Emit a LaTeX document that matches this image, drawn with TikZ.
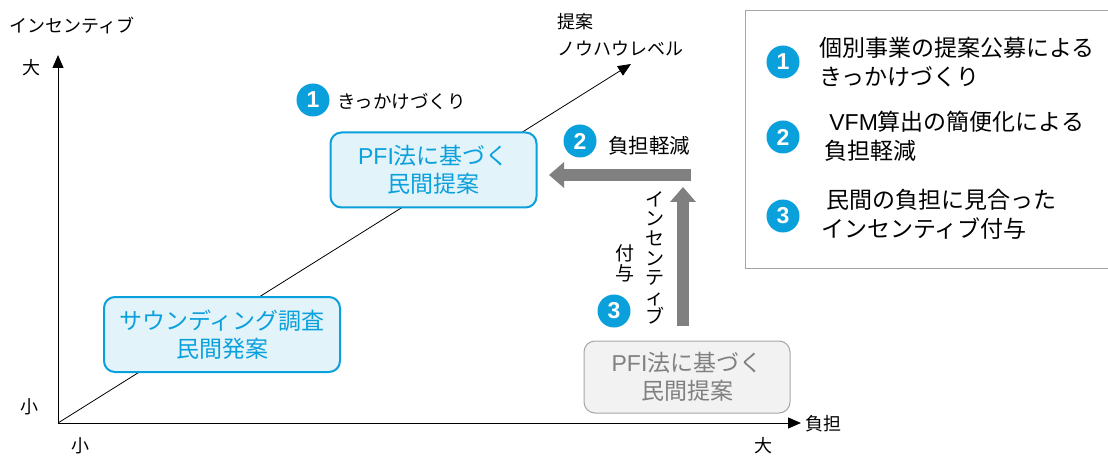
\documentclass[tikz,border=0pt]{standalone}
\usepackage{fontspec}
\setmainfont{Noto Sans CJK JP}
\newfontfamily\lat{Liberation Sans}
\usetikzlibrary{arrows.meta}
\definecolor{pblue}{HTML}{0AA0DC}
\definecolor{pfill}{HTML}{E2F3FA}
\definecolor{parrow}{HTML}{808080}
\definecolor{gfill}{HTML}{F2F2F2}
\definecolor{gline}{HTML}{A6A6A6}
\tikzset{
  x=1pt,y=-1pt,
  axis/.style={line width=1pt,-{Triangle[length=13pt,width=11pt]}},
  num/.style={circle,fill=pblue,text=white,minimum size=33pt,inner sep=0pt,font=\lat\bfseries\fontsize{23}{23}\selectfont},
  lbl/.style={font=\fontsize{18}{20}\selectfont,inner sep=0pt},
  bluebox/.style={draw=pblue,line width=2pt,fill=pfill,rounded corners=11pt,text=pblue,align=center,font=\fontsize{23}{28}\selectfont},
  graybox/.style={draw=gline,line width=1pt,fill=gfill,rounded corners=11pt,text=parrow,align=center,font=\fontsize{23}{28}\selectfont},
  bigarrow/.style={draw=parrow,line width=12pt,-{Triangle[length=15pt,width=25pt]}},
  legtxt/.style={font=\fontsize{23}{29}\selectfont,align=left,inner sep=0pt,anchor=west},
}
\begin{document}
\begin{tikzpicture}
\useasboundingbox (0,0) rectangle (1108,457);
% axes
\coordinate (o) at (58,423);
\coordinate (ytop) at (58,55);
\coordinate (xend) at (801,423);
\coordinate (dend) at (631,64);
\draw[axis] (o) -- (ytop);
\draw[axis] (o) -- (xend);
\draw[line width=0.8pt,-{Triangle[length=13pt,width=11pt]}] (o) -- (dend);
% axis labels
\node[lbl,anchor=west] (yl) at (9,25) {インセンティブ};
\node[lbl] (ybig) at (31,68) {大};
\node[lbl] (ysmall) at (29,407) {小};
\node[lbl] (xsmall) at (80,446) {小};
\node[lbl] (xbig) at (763,446) {大};
\node[lbl,anchor=west] (xl) at (805,424) {負担};
\node[lbl,anchor=west] (dl1) at (557,22) {提案};
\node[lbl,anchor=west] (dl2) at (557,49) {ノウハウレベル};
% boxes
\node[bluebox,minimum width=206pt,minimum height=75pt] (pfi) at (433.5,170) {{\lat PFI}法に基づく\\民間提案};
\node[bluebox,minimum width=236pt,minimum height=75pt] (snd) at (222,334.5) {サウンディング調査\\民間発案};
\node[graybox,minimum width=206pt,minimum height=72pt] (pfig) at (687,377) {{\lat PFI}法に基づく\\民間提案};
% numbered labels
\node[num] (n1) at (313,100) {1};
\node[lbl,anchor=west,font=\fontsize{18.5}{20}\selectfont] (t1) at (337,101) {きっかけづくり};
\node[num] (n2) at (580,141) {2};
\node[lbl,anchor=west,font=\fontsize{20.5}{21}\selectfont] (t2) at (608,146) {負担軽減};
\node[num] (n3) at (614,311) {3};
% gray arrows
\coordinate (ha) at (691,175);
\coordinate (hb) at (549,175);
\draw[bigarrow] (ha) -- (hb);
\coordinate (va) at (683,326);
\coordinate (vb) at (683,187);
\draw[bigarrow] (va) -- (vb);
\node[lbl,align=center,font=\fontsize{19}{19.6}\selectfont] (vt1) at (655,258) {イ\\ン\\セ\\ン\\テ\\ィ\\ブ};
\node[lbl,align=center,font=\fontsize{19}{20}\selectfont] (vt2) at (625,263) {付\\与};
% legend
\node[draw=gline,line width=1pt,minimum width=364pt,minimum height=257pt,inner sep=0pt] (leg) at (927,139.5) {};
\node[num] (l1) at (783,62) {1};
\node[num] (l2) at (783,137) {2};
\node[num] (l3) at (783,216) {3};
\node[legtxt] (lt1) at (819,62) {個別事業の提案公募による\\きっかけづくり};
\node[legtxt] (lt2) at (824,136) {\ {\lat VFM}算出の簡便化による\\負担軽減};
\node[legtxt] (lt3) at (821,214) {\ 民間の負担に見合った\\インセンティブ付与};
\end{tikzpicture}
\end{document}
